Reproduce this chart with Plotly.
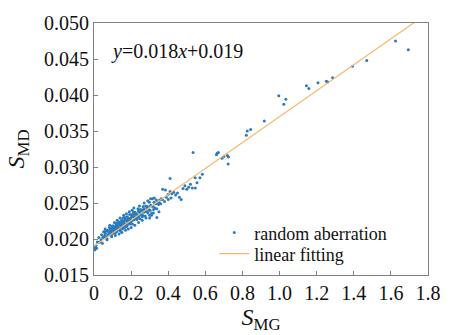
import plotly.graph_objects as go

# dense cluster
dense_x = [0.000,0.003,0.005,0.008,0.011,0.014,0.022,0.038,0.045,
           0.018,0.026,0.033,0.041,0.047,0.052,0.058,0.061,0.067,0.072,0.074,0.079,0.083,0.086,0.091,0.094,0.097,
           0.101,0.104,0.107,0.111,0.113,0.116,0.119,0.122,0.124,0.127,0.131,0.133,0.136,0.139,0.142,0.144,0.147,
           0.151,0.153,0.156,0.158,0.161,0.164,0.167,0.169,0.172,0.175,0.178,0.181,0.183,0.186,0.189,0.192,0.194,
           0.197,0.201,0.204,0.207,0.211,0.214,0.217,0.221,0.224,0.228,0.231,0.234,0.237,0.241,0.244,0.248,0.251,
           0.254,0.258,0.262,0.265,0.268,0.272,0.276,0.279,0.283,0.287,0.291,0.294,0.298,0.302,0.306,0.311,0.315,
           0.319,0.324,0.328,0.333,0.338,0.343,0.348,0.354,0.359,0.363,
           0.055,0.063,0.069,0.076,0.081,0.088,0.093,0.099,0.103,0.109,0.115,0.118,0.121,0.126,0.129,0.134,0.138,
           0.141,0.146,0.149,0.154,0.159,0.163,0.166,0.171,0.176,0.179,0.184,0.188,0.193,0.198,0.203,0.209,0.213,
           0.219,0.226,0.233,0.239,0.246,0.253,0.261,0.269,0.277,0.285,0.296,0.308,0.321,0.336,0.352,0.368,
           0.339,0.310,0.300,
           0.060,0.085,0.110,0.125,0.140,0.160,0.175,0.190,0.205,0.215,0.245,0.270,0.290,0.305,0.325,
           0.070,0.095,0.115,0.135,0.150,0.170,0.185,0.200,0.220,0.240,0.260,0.280,0.300,0.320,0.350,
           0.37,0.38,0.385,0.39,0.40,0.40,0.41,0.41,0.415,0.42,0.43,0.44,0.45,0.46,0.47,0.48,0.49,0.50,0.51,0.52,0.53]
dense_y = [0.0186,0.0188,0.0185,0.0189,0.0191,0.0187,0.0195,0.0199,0.0194,
           0.0196,0.0202,0.0196,0.0206,0.0202,0.0210,0.0205,0.0208,0.0202,0.0212,0.0206,0.0210,0.0216,0.0207,0.0211,0.0206,0.0215,
           0.0212,0.0218,0.0210,0.0216,0.0208,0.0216,0.0222,0.0214,0.0220,0.0212,0.0217,0.0224,0.0215,0.0221,0.0211,0.0223,0.0219,
           0.0223,0.0216,0.0229,0.0219,0.0223,0.0216,0.0228,0.0220,0.0226,0.0217,0.0231,0.0224,0.0228,0.0222,0.0226,0.0234,0.0221,
           0.0228,0.0226,0.0234,0.0221,0.0231,0.0234,0.0227,0.0237,0.0230,0.0235,0.0227,0.0233,0.0242,0.0231,0.0237,0.0228,0.0241,
           0.0235,0.0240,0.0233,0.0245,0.0237,0.0240,0.0232,0.0246,0.0238,0.0245,0.0236,0.0244,0.0251,0.0240,0.0247,0.0236,0.0256,
           0.0245,0.0251,0.0243,0.0249,0.0242,0.0251,0.0248,0.0254,0.0249,0.0256,
           0.0203,0.0211,0.0201,0.0211,0.0206,0.0214,0.0209,0.0218,0.0208,0.0215,0.0212,0.0219,0.0210,0.0219,0.0216,0.0223,0.0214,
           0.0220,0.0218,0.0226,0.0214,0.0225,0.0221,0.0230,0.0219,0.0225,0.0219,0.0229,0.0224,0.0228,0.0223,0.0231,0.0226,0.0237,
           0.0230,0.0234,0.0229,0.0239,0.0233,0.0237,0.0231,0.0242,0.0239,0.0243,0.0240,0.0246,0.0241,0.0254,0.0250,0.0255,
           0.0230,0.0233,0.0229,
           0.0214,0.0219,0.0223,0.0226,0.0229,0.0233,0.0235,0.0238,0.0240,0.0243,0.0246,0.0250,0.0253,0.0256,0.0257,
           0.0199,0.0203,0.0205,0.0207,0.0209,0.0212,0.0214,0.0216,0.0219,0.0223,0.0226,0.0229,0.0233,0.0236,0.0238,
           0.0269,0.0252,0.0268,0.0258,0.0262,0.0255,0.0284,0.0266,0.0257,0.0263,0.0265,0.0261,0.0264,0.0258,0.0255,0.0270,0.0274,0.0269,0.0272,0.0276,0.0271]

# sparse points
sparse_x = [0.534,0.545,0.546,0.555,0.571,0.584,0.660,0.664,0.670,0.690,0.700,0.719,0.725,0.723,
            0.821,0.826,0.844,0.918,0.996,1.023,1.034,1.145,1.158,1.207,1.252,1.260,1.286,1.393,1.470,1.625,1.694]
sparse_y = [0.0320,0.0285,0.0271,0.0278,0.0285,0.0290,0.0317,0.0319,0.0320,0.0312,0.0315,0.0316,0.0314,0.0304,
            0.0344,0.0350,0.0352,0.0364,0.0399,0.0387,0.0394,0.0413,0.0409,0.0417,0.0419,0.0418,0.0424,0.0440,0.0448,0.0475,0.0463]

fit_x = [0.0, 1.76]
slope = 0.018
intercept = 0.019
fit_y = [slope * v + intercept for v in fit_x]

x_ticks = [0, 0.2, 0.4, 0.6, 0.8, 1.0, 1.2, 1.4, 1.6, 1.8]
x_ticktext = ["0", "0.2", "0.4", "0.6", "0.8", "1.0", "1.2", "1.4", "1.6", "1.8"]
y_ticks = [0.015, 0.020, 0.025, 0.030, 0.035, 0.040, 0.045, 0.050]
y_ticktext = ["0.015", "0.020", "0.025", "0.030", "0.035", "0.040", "0.045", "0.050"]

FONT = "Liberation Serif"

fig = go.Figure()
fig.add_trace(go.Scatter(x=dense_x + sparse_x, y=dense_y + sparse_y, mode="markers",
                         marker=dict(color="#2a7bbd", size=3, line=dict(width=0)),
                         name="random aberration", legend="legend"))
fig.add_trace(go.Scatter(x=fit_x, y=fit_y, mode="lines",
                         line=dict(color="#f4b86c", width=1.2), name="linear fitting",
                         legend="legend2"))

leg_common = dict(xanchor="left", yanchor="middle", bgcolor="rgba(0,0,0,0)",
                  font=dict(size=18, family=FONT), itemwidth=30)

fig.update_layout(
    width=453, height=335,
    margin=dict(l=94, r=12, t=14, b=52),
    paper_bgcolor="white", plot_bgcolor="white",
    font=dict(family=FONT, size=20, color="#111"),
    showlegend=True,
    legend=dict(x=0.36, y=0.167, **leg_common),
    legend2=dict(x=0.36, y=0.084, **leg_common),
    annotations=[dict(text="<i>y</i>=0.018<i>x</i>+0.019", x=0.045, y=0.885,
                      xref="paper", yref="paper", xanchor="left", yanchor="middle",
                      showarrow=False, font=dict(size=20, family=FONT))],
)
fig.update_xaxes(range=[0, 1.8], tickvals=x_ticks, ticktext=x_ticktext,
                 showgrid=False, zeroline=False, showline=True, mirror=True,
                 linecolor="#808080", linewidth=1, ticks="inside", ticklen=4,
                 tickcolor="#808080",
                 title=dict(text="<i>S</i><sub>MG</sub>", font=dict(size=24, family=FONT), standoff=2))
fig.update_yaxes(range=[0.015, 0.050], tickvals=y_ticks, ticktext=y_ticktext,
                 showgrid=False, zeroline=False, showline=True, mirror=True,
                 linecolor="#808080", linewidth=1, ticks="inside", ticklen=4,
                 tickcolor="#808080",
                 title=dict(text="<i>S</i><sub>MD</sub>", font=dict(size=24, family=FONT), standoff=12))

fig.write_html("out.html")
